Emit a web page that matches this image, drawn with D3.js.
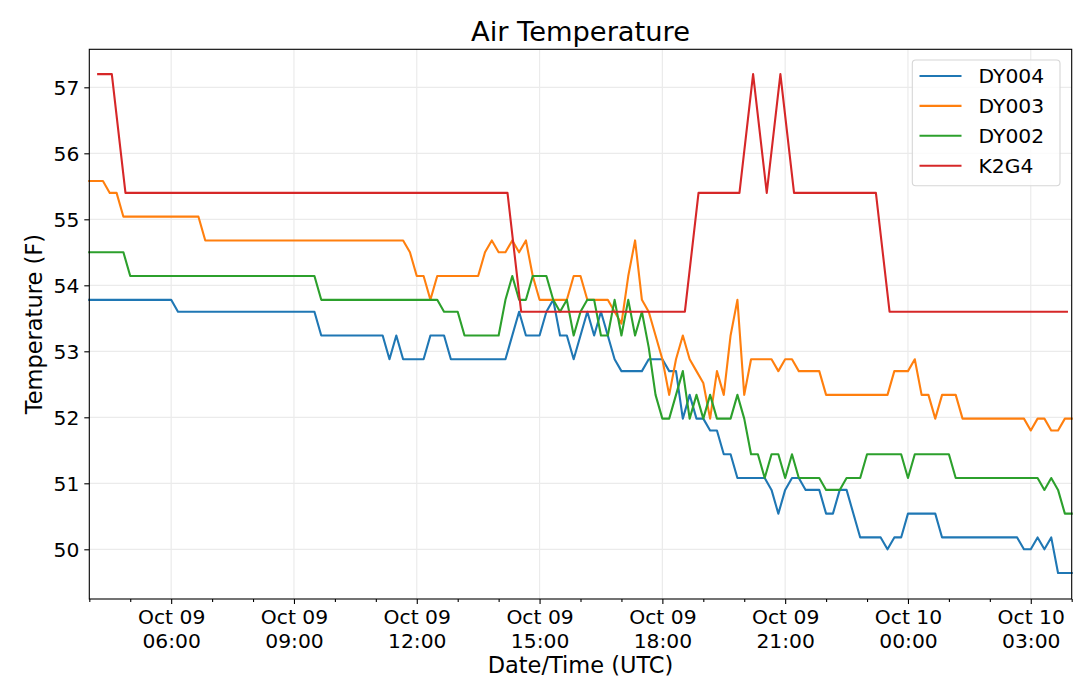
<!DOCTYPE html>
<html>
<head>
<meta charset="utf-8">
<script src="https://cdn.jsdelivr.net/npm/d3@7"></script>
<style>
  html, body { margin: 0; padding: 0; background: #fff; }
  text { font-family: "DejaVu Sans", sans-serif; fill: #000; }
</style>
</head>
<body>
<svg id="chart" width="1080" height="689"></svg>
<script>
// ---------- data ----------
const chartTitle = "Air Temperature";
const xLabel = "Date/Time (UTC)";
const yLabel = "Temperature (F)";
const seriesNames = ["DY004", "DY003", "DY002", "K2G4"];
const seriesColors = ["#1f77b4", "#ff7f0e", "#2ca02c", "#d62728"];
const yTickValues = [50, 51, 52, 53, 54, 55, 56, 57];
const xRange = ["Oct 09 04:00", "Oct 10 04:00"];
const yRange = [49.247, 57.576];

const dy004 = [
  ["Oct 09 04:00",53.78],["Oct 09 06:00",53.78],["Oct 09 06:10",53.6],["Oct 09 09:30",53.6],
  ["Oct 09 09:40",53.24],["Oct 09 11:10",53.24],["Oct 09 11:20",52.88],["Oct 09 11:30",53.24],
  ["Oct 09 11:40",52.88],["Oct 09 12:10",52.88],["Oct 09 12:20",53.24],["Oct 09 12:40",53.24],
  ["Oct 09 12:50",52.88],["Oct 09 14:10",52.88],["Oct 09 14:30",53.6],["Oct 09 14:40",53.24],
  ["Oct 09 15:00",53.24],["Oct 09 15:10",53.6],["Oct 09 15:20",53.78],["Oct 09 15:30",53.24],
  ["Oct 09 15:40",53.24],["Oct 09 15:50",52.88],["Oct 09 16:10",53.6],["Oct 09 16:20",53.24],
  ["Oct 09 16:30",53.6],["Oct 09 16:40",53.24],["Oct 09 16:50",52.88],["Oct 09 17:00",52.7],
  ["Oct 09 17:30",52.7],["Oct 09 17:40",52.88],["Oct 09 18:00",52.88],["Oct 09 18:10",52.7],
  ["Oct 09 18:20",52.7],["Oct 09 18:30",51.98],["Oct 09 18:40",52.34],["Oct 09 18:50",51.98],
  ["Oct 09 19:00",51.98],["Oct 09 19:10",51.8],["Oct 09 19:20",51.8],["Oct 09 19:30",51.44],
  ["Oct 09 19:40",51.44],["Oct 09 19:50",51.08],["Oct 09 20:30",51.08],["Oct 09 20:40",50.9],
  ["Oct 09 20:50",50.54],["Oct 09 21:00",50.9],["Oct 09 21:10",51.08],["Oct 09 21:20",51.08],
  ["Oct 09 21:30",50.9],["Oct 09 21:50",50.9],["Oct 09 22:00",50.54],["Oct 09 22:10",50.54],
  ["Oct 09 22:20",50.9],["Oct 09 22:30",50.9],["Oct 09 22:50",50.18],["Oct 09 23:20",50.18],
  ["Oct 09 23:30",50.0],["Oct 09 23:40",50.18],["Oct 09 23:50",50.18],["Oct 10 00:00",50.54],
  ["Oct 10 00:40",50.54],["Oct 10 00:50",50.18],["Oct 10 02:40",50.18],["Oct 10 02:50",50.0],
  ["Oct 10 03:00",50.0],["Oct 10 03:10",50.18],["Oct 10 03:20",50.0],["Oct 10 03:30",50.18],
  ["Oct 10 03:40",49.64],["Oct 10 04:00",49.64]
];

const dy003 = [
  ["Oct 09 04:00",55.58],["Oct 09 04:20",55.58],["Oct 09 04:30",55.4],["Oct 09 04:40",55.4],
  ["Oct 09 04:50",55.04],["Oct 09 06:40",55.04],["Oct 09 06:50",54.68],["Oct 09 11:40",54.68],
  ["Oct 09 11:50",54.5],["Oct 09 12:00",54.14],["Oct 09 12:10",54.14],["Oct 09 12:20",53.78],
  ["Oct 09 12:30",54.14],["Oct 09 13:30",54.14],["Oct 09 13:40",54.5],["Oct 09 13:50",54.68],
  ["Oct 09 14:00",54.5],["Oct 09 14:10",54.5],["Oct 09 14:20",54.68],["Oct 09 14:30",54.5],
  ["Oct 09 14:40",54.68],["Oct 09 14:50",54.14],["Oct 09 15:00",53.78],["Oct 09 15:40",53.78],
  ["Oct 09 15:50",54.14],["Oct 09 16:00",54.14],["Oct 09 16:10",53.78],["Oct 09 16:40",53.78],
  ["Oct 09 16:50",53.6],["Oct 09 17:00",53.42],["Oct 09 17:10",54.14],["Oct 09 17:20",54.68],
  ["Oct 09 17:30",53.78],["Oct 09 17:40",53.6],["Oct 09 17:50",53.24],["Oct 09 18:00",52.88],
  ["Oct 09 18:10",52.34],["Oct 09 18:20",52.88],["Oct 09 18:30",53.24],["Oct 09 18:40",52.88],
  ["Oct 09 18:50",52.7],["Oct 09 19:00",52.52],["Oct 09 19:10",51.98],["Oct 09 19:20",52.7],
  ["Oct 09 19:30",52.34],["Oct 09 19:40",53.24],["Oct 09 19:50",53.78],["Oct 09 20:00",52.34],
  ["Oct 09 20:10",52.88],["Oct 09 20:40",52.88],["Oct 09 20:50",52.7],["Oct 09 21:00",52.88],
  ["Oct 09 21:10",52.88],["Oct 09 21:20",52.7],["Oct 09 21:50",52.7],["Oct 09 22:00",52.34],
  ["Oct 09 23:30",52.34],["Oct 09 23:40",52.7],["Oct 10 00:00",52.7],["Oct 10 00:10",52.88],
  ["Oct 10 00:20",52.34],["Oct 10 00:30",52.34],["Oct 10 00:40",51.98],["Oct 10 00:50",52.34],
  ["Oct 10 01:10",52.34],["Oct 10 01:20",51.98],["Oct 10 02:50",51.98],["Oct 10 03:00",51.8],
  ["Oct 10 03:10",51.98],["Oct 10 03:20",51.98],["Oct 10 03:30",51.8],["Oct 10 03:40",51.8],
  ["Oct 10 03:50",51.98],["Oct 10 04:00",51.98]
];

const dy002 = [
  ["Oct 09 04:00",54.5],["Oct 09 04:50",54.5],["Oct 09 05:00",54.14],["Oct 09 09:30",54.14],
  ["Oct 09 09:40",53.78],["Oct 09 12:30",53.78],["Oct 09 12:40",53.6],["Oct 09 13:00",53.6],
  ["Oct 09 13:10",53.24],["Oct 09 14:00",53.24],["Oct 09 14:10",53.78],["Oct 09 14:20",54.14],
  ["Oct 09 14:30",53.78],["Oct 09 14:40",53.78],["Oct 09 14:50",54.14],["Oct 09 15:10",54.14],
  ["Oct 09 15:20",53.78],["Oct 09 15:30",53.6],["Oct 09 15:40",53.78],["Oct 09 15:50",53.24],
  ["Oct 09 16:00",53.6],["Oct 09 16:10",53.78],["Oct 09 16:20",53.78],["Oct 09 16:30",53.24],
  ["Oct 09 16:40",53.24],["Oct 09 16:50",53.78],["Oct 09 17:00",53.24],["Oct 09 17:10",53.78],
  ["Oct 09 17:20",53.24],["Oct 09 17:30",53.6],["Oct 09 17:40",53.06],["Oct 09 17:50",52.34],
  ["Oct 09 18:00",51.98],["Oct 09 18:10",51.98],["Oct 09 18:20",52.34],["Oct 09 18:30",52.7],
  ["Oct 09 18:40",51.98],["Oct 09 18:50",52.34],["Oct 09 19:00",51.98],["Oct 09 19:10",52.34],
  ["Oct 09 19:20",51.98],["Oct 09 19:40",51.98],["Oct 09 19:50",52.34],["Oct 09 20:00",51.98],
  ["Oct 09 20:10",51.44],["Oct 09 20:20",51.44],["Oct 09 20:30",51.08],["Oct 09 20:40",51.44],
  ["Oct 09 20:50",51.44],["Oct 09 21:00",51.08],["Oct 09 21:10",51.44],["Oct 09 21:20",51.08],
  ["Oct 09 21:50",51.08],["Oct 09 22:00",50.9],["Oct 09 22:20",50.9],["Oct 09 22:30",51.08],
  ["Oct 09 22:50",51.08],["Oct 09 23:00",51.44],["Oct 09 23:50",51.44],["Oct 10 00:00",51.08],
  ["Oct 10 00:10",51.44],["Oct 10 01:00",51.44],["Oct 10 01:10",51.08],["Oct 10 03:10",51.08],
  ["Oct 10 03:20",50.9],["Oct 10 03:30",51.08],["Oct 10 03:40",50.9],["Oct 10 03:50",50.54],
  ["Oct 10 04:00",50.54]
];

const k2g4 = [
  ["Oct 09 04:13",57.2],["Oct 09 04:33",57.2],["Oct 09 04:53",55.4],["Oct 09 14:13",55.4],
  ["Oct 09 14:33",53.6],["Oct 09 18:33",53.6],["Oct 09 18:53",55.4],["Oct 09 19:53",55.4],
  ["Oct 09 20:13",57.2],["Oct 09 20:33",55.4],["Oct 09 20:53",57.2],["Oct 09 21:13",55.4],
  ["Oct 09 23:13",55.4],["Oct 09 23:33",53.6],["Oct 10 03:53",53.6]
];

const seriesData = [dy004, dy003, dy002, k2g4];

// ---------- drawing ----------
const W = 1080, H = 689;
const margin = { left: 89.3, top: 49.3, right: W - 1071.7, bottom: H - 599 };
const parseT = d3.utcParse("%b %d %H:%M");
const svg = d3.select("#chart");

const x = d3.scaleUtc()
  .domain(xRange.map(parseT))
  .range([margin.left, W - margin.right]);
const y = d3.scaleLinear()
  .domain(yRange)
  .range([H - margin.bottom, margin.top]);

const majorTicks = x.ticks(d3.utcHour.every(3)).filter(d => d.getUTCHours() % 3 === 0);
const minorTicks = x.ticks(d3.utcHour.every(1)).filter(d => d.getUTCHours() % 3 !== 0);

// grid
const grid = svg.append("g").attr("stroke", "#ebebeb").attr("stroke-width", 1.2);
grid.selectAll("line.gx").data(majorTicks).join("line")
  .attr("x1", d => x(d)).attr("x2", d => x(d))
  .attr("y1", margin.top).attr("y2", H - margin.bottom);
grid.selectAll("line.gy").data(yTickValues).join("line")
  .attr("x1", margin.left).attr("x2", W - margin.right)
  .attr("y1", d => y(d)).attr("y2", d => y(d));

// lines
const line = d3.line().x(d => x(parseT(d[0]))).y(d => y(d[1]));
svg.append("g").selectAll("path").data(seriesData).join("path")
  .attr("d", d => line(d))
  .attr("fill", "none")
  .attr("stroke", (d, i) => seriesColors[i])
  .attr("stroke-width", 2.1)
  .attr("stroke-linejoin", "round")
  .attr("stroke-linecap", "square");

// axes
const xAxisMajor = d3.axisBottom(x).tickValues(majorTicks).tickSize(5).tickSizeOuter(0).tickFormat("");
const xAxisMinor = d3.axisBottom(x).tickValues(minorTicks).tickSize(3).tickSizeOuter(0).tickFormat("");
const gxMinor = svg.append("g").attr("transform", `translate(0,${H - margin.bottom})`).call(xAxisMinor);
const gx = svg.append("g").attr("transform", `translate(0,${H - margin.bottom})`).call(xAxisMajor);
[gx, gxMinor].forEach(g => {
  g.select(".domain").remove();
  g.selectAll(".tick line").attr("stroke", "#000").attr("stroke-width", 1.1);
});
const fmtDay = d3.utcFormat("%b %d"), fmtHour = d3.utcFormat("%H:%M");
gx.selectAll(".tick").each(function(d) {
  const t = d3.select(this).append("text")
    .attr("text-anchor", "middle")
    .attr("font-size", 20.3)
    .attr("fill", "#000");
  t.append("tspan").attr("x", 0).attr("y", 24.5).text(fmtDay(d));
  t.append("tspan").attr("x", 0).attr("y", 48.5).text(fmtHour(d));
});

const yAxis = d3.axisLeft(y).tickValues(yTickValues).tickSize(5).tickSizeOuter(0).tickPadding(5);
const gy = svg.append("g").attr("transform", `translate(${margin.left},0)`).call(yAxis);
gy.select(".domain").remove();
gy.selectAll(".tick line").attr("stroke", "#000").attr("stroke-width", 1.1);
gy.selectAll(".tick text")
  .attr("font-family", "DejaVu Sans")
  .attr("font-size", 20.3)
  .attr("fill", "#000")
  .attr("dy", "0.36em");

// frame
svg.append("rect")
  .attr("x", margin.left).attr("y", margin.top)
  .attr("width", W - margin.left - margin.right)
  .attr("height", H - margin.top - margin.bottom)
  .attr("fill", "none").attr("stroke", "#000").attr("stroke-width", 1.1);

// title & labels
svg.append("text").attr("x", (margin.left + W - margin.right) / 2).attr("y", 41)
  .attr("text-anchor", "middle").attr("font-size", 27.3).text(chartTitle);
svg.append("text").attr("x", (margin.left + W - margin.right) / 2).attr("y", 673)
  .attr("text-anchor", "middle").attr("font-size", 22.5).text(xLabel);
svg.append("text")
  .attr("transform", `translate(42,${(margin.top + H - margin.bottom) / 2}) rotate(-90)`)
  .attr("text-anchor", "middle").attr("font-size", 22.5).text(yLabel);

// legend
const lg = svg.append("g");
lg.append("rect").attr("x", 912.3).attr("y", 60).attr("width", 147.7).attr("height", 125.7)
  .attr("rx", 3.5).attr("fill", "#fff").attr("fill-opacity", 0.8)
  .attr("stroke", "#d6d6d6").attr("stroke-width", 1.1);
const rows = lg.selectAll("g.row").data(seriesNames).join("g")
  .attr("transform", (d, i) => `translate(0,${76 + i * 29.9})`);
rows.append("line").attr("x1", 919.5).attr("x2", 961.5).attr("y1", 0).attr("y2", 0)
  .attr("stroke", (d, i) => seriesColors[i]).attr("stroke-width", 2.1);
rows.append("text").attr("x", 978.5).attr("y", 0).attr("dy", "0.36em")
  .attr("font-size", 20.3).text(d => d);
</script>
</body>
</html>
